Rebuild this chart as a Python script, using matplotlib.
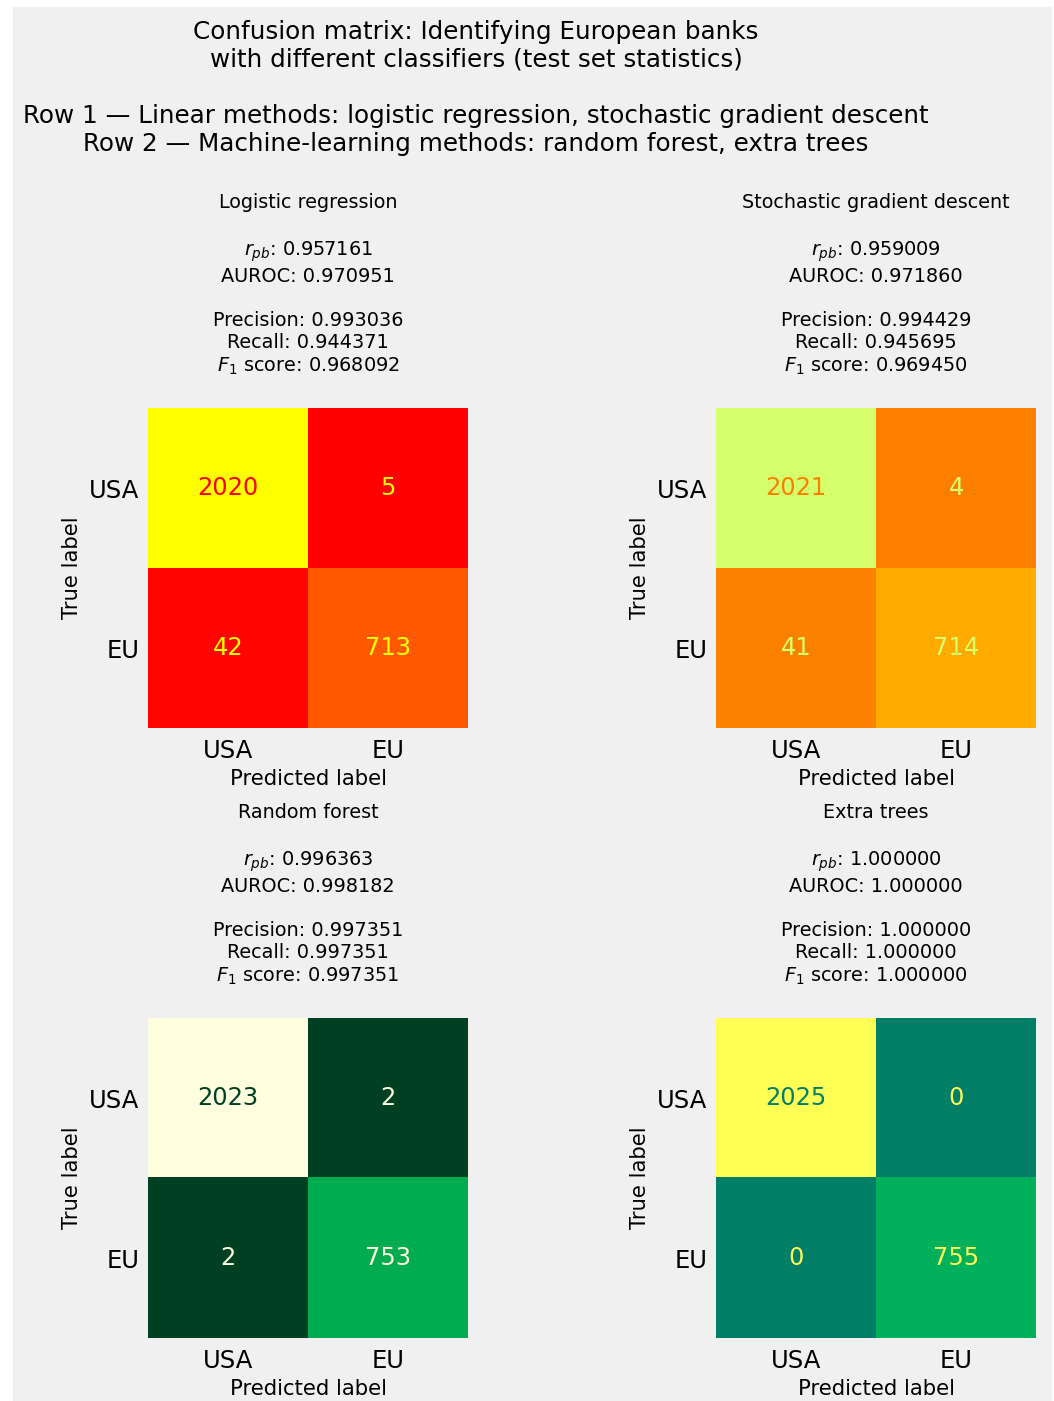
import numpy as np
import matplotlib
matplotlib.use('Agg')
import matplotlib.pyplot as plt
from matplotlib.colors import LinearSegmentedColormap
from matplotlib.patches import Rectangle

# matrizes de confusao (linhas = rotulo verdadeiro, colunas = previsto)
classes = ['USA', 'EU']
modelos = ['Logistic regression', 'Stochastic gradient descent', 'Random forest', 'Extra trees']

cm_logistica = [[2020, 5], [42, 713]]
cm_sgd = [[2021, 4], [41, 714]]
cm_floresta = [[2023, 2], [2, 753]]
cm_extra = [[2025, 0], [0, 755]]

r_pb = [0.957161, 0.959009, 0.996363, 1.000000]
auroc = [0.970951, 0.971860, 0.998182, 1.000000]
precisao = [0.993036, 0.994429, 0.997351, 1.000000]
revocacao = [0.944371, 0.945695, 0.997351, 1.000000]
f1 = [0.968092, 0.969450, 0.997351, 1.000000]

# mapas de cor de cada painel
mapa_sgd = LinearSegmentedColormap.from_list('sgd', [(0, '#fc7f00'), (0.25, '#ffa000'), (0.5, '#ffbd00'),
                                                     (0.75, '#ffe81a'), (1, '#d6ff6c')])
mapa_floresta = LinearSegmentedColormap.from_list('floresta', [(0, '#004022'), (0.37, '#00ab50'), (1, '#ffffe0')])
mapa_extra = LinearSegmentedColormap.from_list('extra', [(0, '#007f66'), (0.37, '#00b05c'), (1, '#ffff55')])
mapas = [plt.get_cmap('autumn'), mapa_sgd, mapa_floresta, mapa_extra]

W, H = 1054, 1401
fig = plt.figure(figsize=(W / 100, H / 100), dpi=100, facecolor='white')
fig.patches.append(Rectangle((13 / W, 0), (1051 - 13) / W, (H - 7) / H,
                             transform=fig.transFigure, color='#f0f0f0', zorder=-10))

titulo = ('Confusion matrix: Identifying European banks\n'
          'with different classifiers (test set statistics)\n\n'
          'Row 1 \u2014 Linear methods: logistic regression, stochastic gradient descent\n'
          'Row 2 \u2014 Machine-learning methods: random forest, extra trees')
fig.text(476 / W, 1 - 20 / H, titulo, ha='center', va='top', fontsize=17.7,
         linespacing=1.21, multialignment='center')

# posicao dos eixos em pixels: (esquerda, topo)
posicoes = [(148, 408), (716, 408), (148, 1018), (716, 1018)]
lado = 320
matrizes = [cm_logistica, cm_sgd, cm_floresta, cm_extra]

for i in range(4):
    esq, topo = posicoes[i]
    ax = fig.add_axes([esq / W, 1 - (topo + lado) / H, lado / W, lado / H])
    cm = np.array(matrizes[i])
    cmap = mapas[i]
    ax.imshow(cm, cmap=cmap, aspect='auto', interpolation='nearest')

    limiar = (cm.max() + cm.min()) / 2
    for r in range(2):
        for c in range(2):
            cor = cmap(1.0) if cm[r, c] < limiar else cmap(0.0)
            ax.text(c, r, str(cm[r, c]), ha='center', va='center', color=cor, fontsize=17.4)

    ax.set_xticks([0, 1])
    ax.set_yticks([0, 1])
    ax.set_xticklabels(classes, fontsize=17.5)
    ax.set_yticklabels(classes, fontsize=17.5)
    ax.tick_params(axis='x', length=0, pad=8)
    ax.tick_params(axis='y', length=0, pad=6)
    ax.set_xlabel('Predicted label', fontsize=15.2, labelpad=4)
    ax.set_ylabel('True label', fontsize=15.2, labelpad=5.5)
    for s in ax.spines.values():
        s.set_visible(False)

    # titulo e estatisticas acima de cada matriz
    cx = (esq + lado / 2) / W
    fig.text(cx, 1 - (topo - 206) / H, modelos[i], ha='center', va='center', fontsize=13.8)
    fig.text(cx, 1 - (topo - 145) / H,
             '$r_{pb}$: %.6f\nAUROC: %.6f' % (r_pb[i], auroc[i]),
             ha='center', va='center', fontsize=13.9, linespacing=1.22, multialignment='center')
    fig.text(cx, 1 - (topo - 64) / H,
             'Precision: %.6f\nRecall: %.6f\n$F_1$ score: %.6f' % (precisao[i], revocacao[i], f1[i]),
             ha='center', va='center', fontsize=13.9, linespacing=1.2, multialignment='center')

fig.savefig('out.png', dpi=100, facecolor=fig.get_facecolor())
